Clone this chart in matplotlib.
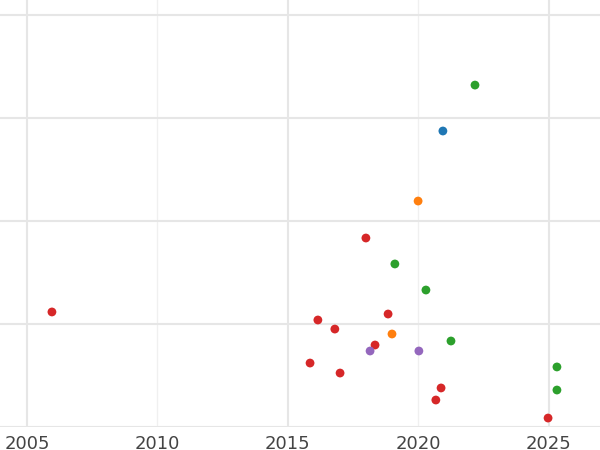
import matplotlib.pyplot as plt
from matplotlib.ticker import MultipleLocator

# values (y axis has no labels, arbitrary units)
red_x = [2005.96, 2017.99, 2016.15, 2016.8, 2018.84, 2018.34, 2015.85, 2017.0, 2020.87, 2020.67, 2024.97]
red_y = [1.117, 1.835, 1.039, 0.951, 1.097, 0.796, 0.621, 0.524, 0.379, 0.262, 0.087]
green_x = [2022.17, 2019.1, 2020.29, 2021.25, 2025.31, 2025.31]
green_y = [3.32, 1.583, 1.330, 0.835, 0.583, 0.359]
blue_x = [2020.94]
blue_y = [2.874]
orange_x = [2019.99, 2018.99]
orange_y = [2.194, 0.903]
purple_x = [2018.15, 2020.02]
purple_y = [0.738, 0.738]

fig = plt.figure(figsize=(6, 4.5), dpi=100)
ax = fig.add_axes([0, 23 / 450, 1, 1 - 23 / 450])

for xs, ys, c in [(red_x, red_y, '#d62728'), (green_x, green_y, '#2ca02c'),
                  (blue_x, blue_y, '#1f77b4'), (orange_x, orange_y, '#ff7f0e'),
                  (purple_x, purple_y, '#9467bd')]:
    ax.scatter(xs, ys, s=40, color=c, zorder=3, edgecolors='none')

ax.set_xlim(2003.97, 2026.96)
ax.set_ylim(0, 4.146)
ax.xaxis.set_major_locator(MultipleLocator(10))
ax.xaxis.set_minor_locator(MultipleLocator(5))
ax.yaxis.set_major_locator(MultipleLocator(1))
ax.set_xticks([2005, 2015, 2025])
ax.set_xticks([2010, 2020], minor=True)
ax.grid(True, which='major', color='#e6e6e6', linewidth=1.5)
ax.grid(True, which='minor', axis='x', color='#f0f0f0', linewidth=1.0)
ax.set_xticklabels(['2005', '2015', '2025'])
ax.set_xticklabels(['2010', '2020'], minor=True)
ax.set_yticklabels([])
ax.tick_params(axis='both', which='both', length=0)
ax.tick_params(axis='x', which='both', labelsize=13, labelcolor='#444444', pad=6)
for s in ax.spines.values():
    s.set_visible(False)

fig.savefig('out.png', dpi=100)
